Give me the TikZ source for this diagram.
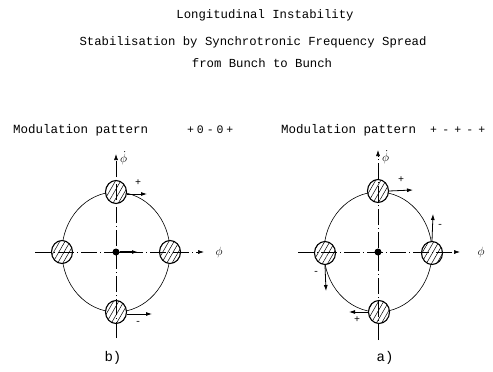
\documentclass[tikz,border=0pt]{standalone}
\usepackage{fontspec}
\setmonofont{Liberation Mono}
\usetikzlibrary{arrows.meta, positioning, shapes.geometric, patterns.meta, calc}

\begin{document}
\begin{tikzpicture}[
    x=1pt, y=-1pt,
    every node/.style={font=\ttfamily\fontsize{12}{14}\selectfont},
    title/.style={font=\ttfamily\fontsize{12.3}{14}\selectfont},
    pattern label/.style={anchor=west, inner sep=0pt, font=\ttfamily\fontsize{12.5}{14}\selectfont},
    signs/.style={anchor=west, inner sep=0pt, font=\ttfamily\fontsize{11.5}{14}\selectfont},
    bunch/.style={ellipse, draw, line width=1.1pt, minimum width=21pt, minimum height=23pt, inner sep=0pt, preaction={fill=white}, pattern={Lines[angle=60, distance=4.5pt, line width=0.5pt]}},
    dot/.style={circle, fill=black, minimum size=7pt, inner sep=0pt},
    axis/.style={-{Latex[length=6pt, width=4pt]}, line width=0.6pt, dash pattern=on 16pt off 3pt on 1pt off 3pt},
    orbit/.style={line width=0.6pt},
    kick/.style={-{Latex[length=6pt, width=4pt]}, line width=0.8pt},
    sign/.style={font=\ttfamily\fontsize{10}{12}\selectfont, inner sep=1pt},
    caption/.style={font=\ttfamily\fontsize{14}{16}\selectfont}
]
\useasboundingbox (0,0) rectangle (493,372);

% Titles
\node (t1) [title] at (265,15) {Longitudinal Instability};
\node (t2) [title] at (253,42) {Stabilisation by Synchrotronic Frequency Spread};
\node (t3) [title] at (262,63) {from Bunch to Bunch};

\newcommand\gapB{\hspace{0.25em}}
\newcommand\gapA{\hspace{0.45em}}
\node (patB) [pattern label] at (13,130) {Modulation pattern};
\node (sigB) [signs] at (187,130) {+\gapB 0\gapB -\gapB 0\gapB +};
\node (patA) [pattern label] at (281,130) {Modulation pattern};
\node (sigA) [signs] at (430,130) {+\gapA -\gapA +\gapA -\gapA +};

% Diagram b)
\draw [orbit] (116,252) ellipse [x radius=54, y radius=60];
\node (bN) [bunch] at (116,192) {};
\node (bS) [bunch] at (116,312) {};
\node (bW) [bunch] at (62,252) {};
\node (bE) [bunch] at (170,252) {};

\coordinate (bXl) at (35,252);
\coordinate (bXr) at (204,252);
\coordinate (bYb) at (116,338);
\coordinate (bYt) at (116,154);
\draw [axis] (bXl) -- (bXr);
\draw [axis] (bYb) -- (bYt);
\node (bPhi) [right=8pt of bXr] {$\phi$};
\node (bPhid) [anchor=west, inner sep=0pt] at (120,158) {$\dot\phi$};

\node (bC) [dot] at (116,252) {};
\coordinate (bCk) at (138,252);
\draw [kick, line width=1.3pt] (bC) -- (bCk);

\coordinate (bNk) at (147,194);
\coordinate (bSk) at (152,314);
\draw [kick] ($(bN.east)+(0,2)$) -- (bNk);
\draw [kick] ($(bS.east)+(0,2)$) -- (bSk);
\node (bNs) [sign] at (138,183) {+};
\node (bSs) [sign] at (138,323) {-};

\node (capB) [caption] at (113,358) {b)};

% Diagram a)
\draw [orbit] (378,252) ellipse [x radius=54, y radius=60];
\node (aN) [bunch] at (378,191) {};
\node (aS) [bunch] at (379,312) {};
\node (aW) [bunch] at (325,253) {};
\node (aE) [bunch] at (432,253) {};

\coordinate (aXl) at (298,252);
\coordinate (aXr) at (460,252);
\coordinate (aYb) at (378,340);
\coordinate (aYt) at (378,150);
\draw [axis] (aXl) -- (aXr);
\draw [axis] (aYb) -- (aYt);
\node (aPhi) [right=14pt of aXr] {$\phi$};
\node (aPhid) [anchor=west, inner sep=0pt] at (382,157) {$\dot\phi$};

\node (aC) [dot] at (378,252) {};

\coordinate (aNk) at (413,190);
\coordinate (aEk) at (433,214);
\coordinate (aWk) at (326,291);
\coordinate (aSk) at (349,312);
\draw [kick] (aN.east) -- (aNk);
\draw [kick] (aE.north) -- (aEk);
\draw [kick] (aW.south) -- (aWk);
\draw [kick] (aS.west) -- (aSk);
\node (aNs) [sign] at (401,180) {+};
\node (aEs) [sign] at (440,226) {-};
\node (aWs) [sign] at (316,273) {-};
\node (aSs) [sign] at (357,320) {+};

\node (capA) [caption] at (385,358) {a)};

\end{tikzpicture}
\end{document}
